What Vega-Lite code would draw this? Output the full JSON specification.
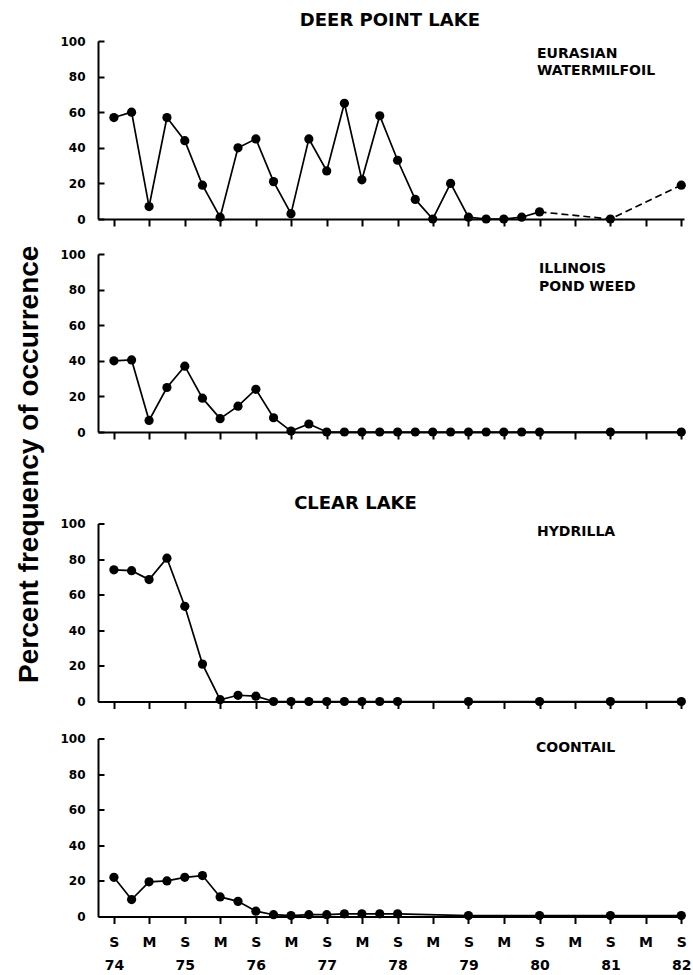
{
  "$schema": "https://vega.github.io/schema/vega-lite/v6.json",
  "background": "white",
  "padding": {"left": 15, "top": 12, "right": 0, "bottom": 2},
  "title": {"text": "Percent frequency of occurrence", "orient": "left", "anchor": "middle", "font": "Liberation Sans", "fontSize": 28, "fontWeight": "bold", "color": "black", "offset": 16, "dx": 28},
  "datasets": {
    "milfoil": [
      {"date": "1974-09-15", "pct": 57}, {"date": "1974-12-15", "pct": 60}, {"date": "1975-03-15", "pct": 7}, {"date": "1975-06-15", "pct": 57},
      {"date": "1975-09-15", "pct": 44}, {"date": "1975-12-15", "pct": 19}, {"date": "1976-03-15", "pct": 1}, {"date": "1976-06-15", "pct": 40},
      {"date": "1976-09-15", "pct": 45}, {"date": "1976-12-15", "pct": 21}, {"date": "1977-03-15", "pct": 3}, {"date": "1977-06-15", "pct": 45},
      {"date": "1977-09-15", "pct": 27}, {"date": "1977-12-15", "pct": 65}, {"date": "1978-03-15", "pct": 22}, {"date": "1978-06-15", "pct": 58},
      {"date": "1978-09-15", "pct": 33}, {"date": "1978-12-15", "pct": 11}, {"date": "1979-03-15", "pct": 0}, {"date": "1979-06-15", "pct": 20},
      {"date": "1979-09-15", "pct": 1}, {"date": "1979-12-15", "pct": 0}, {"date": "1980-03-15", "pct": 0}, {"date": "1980-06-15", "pct": 1},
      {"date": "1980-09-15", "pct": 4}, {"date": "1981-09-15", "pct": 0}, {"date": "1982-09-15", "pct": 19}
    ],
    "pondweed": [
      {"date": "1974-09-15", "pct": 40}, {"date": "1974-12-15", "pct": 40.5}, {"date": "1975-03-15", "pct": 6.5}, {"date": "1975-06-15", "pct": 25},
      {"date": "1975-09-15", "pct": 37}, {"date": "1975-12-15", "pct": 19}, {"date": "1976-03-15", "pct": 7.5}, {"date": "1976-06-15", "pct": 14.5},
      {"date": "1976-09-15", "pct": 24}, {"date": "1976-12-15", "pct": 8}, {"date": "1977-03-15", "pct": 0.5}, {"date": "1977-06-15", "pct": 4.5},
      {"date": "1977-09-15", "pct": 0}, {"date": "1977-12-15", "pct": 0}, {"date": "1978-03-15", "pct": 0}, {"date": "1978-06-15", "pct": 0},
      {"date": "1978-09-15", "pct": 0}, {"date": "1978-12-15", "pct": 0}, {"date": "1979-03-15", "pct": 0}, {"date": "1979-06-15", "pct": 0},
      {"date": "1979-09-15", "pct": 0}, {"date": "1979-12-15", "pct": 0}, {"date": "1980-03-15", "pct": 0}, {"date": "1980-06-15", "pct": 0},
      {"date": "1980-09-15", "pct": 0}, {"date": "1981-09-15", "pct": 0}, {"date": "1982-09-15", "pct": 0}
    ],
    "hydrilla": [
      {"date": "1974-09-15", "pct": 74}, {"date": "1974-12-15", "pct": 73.5}, {"date": "1975-03-15", "pct": 68.5}, {"date": "1975-06-15", "pct": 80.5},
      {"date": "1975-09-15", "pct": 53.5}, {"date": "1975-12-15", "pct": 21}, {"date": "1976-03-15", "pct": 1}, {"date": "1976-06-15", "pct": 3.5},
      {"date": "1976-09-15", "pct": 3}, {"date": "1976-12-15", "pct": 0}, {"date": "1977-03-15", "pct": 0}, {"date": "1977-06-15", "pct": 0},
      {"date": "1977-09-15", "pct": 0}, {"date": "1977-12-15", "pct": 0}, {"date": "1978-03-15", "pct": 0}, {"date": "1978-06-15", "pct": 0},
      {"date": "1978-09-15", "pct": 0}, {"date": "1979-09-15", "pct": 0}, {"date": "1980-09-15", "pct": 0}, {"date": "1981-09-15", "pct": 0},
      {"date": "1982-09-15", "pct": 0}
    ],
    "coontail": [
      {"date": "1974-09-15", "pct": 22}, {"date": "1974-12-15", "pct": 9.5}, {"date": "1975-03-15", "pct": 19.5}, {"date": "1975-06-15", "pct": 20},
      {"date": "1975-09-15", "pct": 22}, {"date": "1975-12-15", "pct": 23}, {"date": "1976-03-15", "pct": 11}, {"date": "1976-06-15", "pct": 8.5},
      {"date": "1976-09-15", "pct": 3}, {"date": "1976-12-15", "pct": 1}, {"date": "1977-03-15", "pct": 0.5}, {"date": "1977-06-15", "pct": 1},
      {"date": "1977-09-15", "pct": 1}, {"date": "1977-12-15", "pct": 1.5}, {"date": "1978-03-15", "pct": 1.5}, {"date": "1978-06-15", "pct": 1.5},
      {"date": "1978-09-15", "pct": 1.5}, {"date": "1979-09-15", "pct": 0.5}, {"date": "1980-09-15", "pct": 0.5}, {"date": "1981-09-15", "pct": 0.5},
      {"date": "1982-09-15", "pct": 0.5}
    ]
  },
  "spacing": 54.5,
  "vconcat": [
    {
      "title": {"text": "DEER POINT LAKE", "font": "DejaVu Sans", "fontSize": 18, "fontWeight": "bold", "color": "black", "anchor": "middle", "dx": 17, "offset": 5},
      "spacing": 21,
      "vconcat": [
        {
          "width": 586, "height": 178,
          "title": {"text": ["EURASIAN", "WATERMILFOIL"], "frame": "group", "anchor": "start", "align": "left", "dx": 439, "offset": -43, "font": "DejaVu Sans", "fontSize": 14, "fontWeight": "bold", "lineHeight": 17.5, "color": "black"},
          "data": {"name": "milfoil"},
          "encoding": {
            "x": {"field": "date", "type": "temporal", "scale": {"type": "utc", "domain": [{"year": 1974, "month": 6, "date": 25, "utc": true}, {"year": 1982, "month": 9, "date": 29, "utc": true}]},
                  "axis": {"title": null, "labels": false, "values": [
                    {"year": 1974, "month": 9, "date": 15, "utc": true}, {"year": 1975, "month": 3, "date": 15, "utc": true}, {"year": 1975, "month": 9, "date": 15, "utc": true},
                    {"year": 1976, "month": 3, "date": 15, "utc": true}, {"year": 1976, "month": 9, "date": 15, "utc": true}, {"year": 1977, "month": 3, "date": 15, "utc": true},
                    {"year": 1977, "month": 9, "date": 15, "utc": true}, {"year": 1978, "month": 3, "date": 15, "utc": true}, {"year": 1978, "month": 9, "date": 15, "utc": true},
                    {"year": 1979, "month": 3, "date": 15, "utc": true}, {"year": 1979, "month": 9, "date": 15, "utc": true}, {"year": 1980, "month": 3, "date": 15, "utc": true},
                    {"year": 1980, "month": 9, "date": 15, "utc": true}, {"year": 1981, "month": 3, "date": 15, "utc": true}, {"year": 1981, "month": 9, "date": 15, "utc": true},
                    {"year": 1982, "month": 3, "date": 15, "utc": true}, {"year": 1982, "month": 9, "date": 15, "utc": true}]}},
            "y": {"field": "pct", "type": "quantitative", "scale": {"domain": [0, 100]}, "axis": {"title": null, "values": [0, 20, 40, 60, 80, 100]}}
          },
          "layer": [
            {"transform": [{"filter": "time(datum.date) <= utc(1980, 8, 15)"}], "mark": {"type": "line", "color": "black", "strokeWidth": 1.7}},
            {"transform": [{"filter": "time(datum.date) >= utc(1980, 8, 15)"}], "mark": {"type": "line", "color": "black", "strokeWidth": 1.7, "strokeDash": [7, 4]}},
            {"mark": {"type": "point", "filled": true, "color": "black", "size": 85, "opacity": 1}}
          ]
        },
        {
          "width": 586, "height": 178,
          "title": {"text": ["ILLINOIS", "POND WEED"], "frame": "group", "anchor": "start", "align": "left", "dx": 441, "offset": -45.5, "font": "DejaVu Sans", "fontSize": 14, "fontWeight": "bold", "lineHeight": 18, "color": "black"},
          "data": {"name": "pondweed"},
          "encoding": {
            "x": {"field": "date", "type": "temporal", "scale": {"type": "utc", "domain": [{"year": 1974, "month": 6, "date": 25, "utc": true}, {"year": 1982, "month": 9, "date": 29, "utc": true}]},
                  "axis": {"title": null, "labels": false, "values": [
                    {"year": 1974, "month": 9, "date": 15, "utc": true}, {"year": 1975, "month": 3, "date": 15, "utc": true}, {"year": 1975, "month": 9, "date": 15, "utc": true},
                    {"year": 1976, "month": 3, "date": 15, "utc": true}, {"year": 1976, "month": 9, "date": 15, "utc": true}, {"year": 1977, "month": 3, "date": 15, "utc": true},
                    {"year": 1977, "month": 9, "date": 15, "utc": true}, {"year": 1978, "month": 3, "date": 15, "utc": true}, {"year": 1978, "month": 9, "date": 15, "utc": true},
                    {"year": 1979, "month": 3, "date": 15, "utc": true}, {"year": 1979, "month": 9, "date": 15, "utc": true}, {"year": 1980, "month": 3, "date": 15, "utc": true},
                    {"year": 1980, "month": 9, "date": 15, "utc": true}, {"year": 1981, "month": 3, "date": 15, "utc": true}, {"year": 1981, "month": 9, "date": 15, "utc": true},
                    {"year": 1982, "month": 3, "date": 15, "utc": true}, {"year": 1982, "month": 9, "date": 15, "utc": true}]}},
            "y": {"field": "pct", "type": "quantitative", "scale": {"domain": [0, 100]}, "axis": {"title": null, "values": [0, 20, 40, 60, 80, 100]}}
          },
          "layer": [
            {"mark": {"type": "line", "color": "black", "strokeWidth": 1.7}},
            {"mark": {"type": "point", "filled": true, "color": "black", "size": 85, "opacity": 1}}
          ]
        }
      ]
    },
    {
      "title": {"text": "CLEAR LAKE", "font": "DejaVu Sans", "fontSize": 18, "fontWeight": "bold", "color": "black", "anchor": "middle", "dx": -20, "offset": 5},
      "spacing": 23,
      "vconcat": [
        {
          "width": 586, "height": 178,
          "title": {"text": "HYDRILLA", "frame": "group", "anchor": "start", "align": "left", "dx": 439, "offset": -21, "font": "DejaVu Sans", "fontSize": 14, "fontWeight": "bold", "color": "black"},
          "data": {"name": "hydrilla"},
          "encoding": {
            "x": {"field": "date", "type": "temporal", "scale": {"type": "utc", "domain": [{"year": 1974, "month": 6, "date": 25, "utc": true}, {"year": 1982, "month": 9, "date": 29, "utc": true}]},
                  "axis": {"title": null, "labels": false, "values": [
                    {"year": 1974, "month": 9, "date": 15, "utc": true}, {"year": 1975, "month": 3, "date": 15, "utc": true}, {"year": 1975, "month": 9, "date": 15, "utc": true},
                    {"year": 1976, "month": 3, "date": 15, "utc": true}, {"year": 1976, "month": 9, "date": 15, "utc": true}, {"year": 1977, "month": 3, "date": 15, "utc": true},
                    {"year": 1977, "month": 9, "date": 15, "utc": true}, {"year": 1978, "month": 3, "date": 15, "utc": true}, {"year": 1978, "month": 9, "date": 15, "utc": true},
                    {"year": 1979, "month": 3, "date": 15, "utc": true}, {"year": 1979, "month": 9, "date": 15, "utc": true}, {"year": 1980, "month": 3, "date": 15, "utc": true},
                    {"year": 1980, "month": 9, "date": 15, "utc": true}, {"year": 1981, "month": 3, "date": 15, "utc": true}, {"year": 1981, "month": 9, "date": 15, "utc": true},
                    {"year": 1982, "month": 3, "date": 15, "utc": true}, {"year": 1982, "month": 9, "date": 15, "utc": true}]}},
            "y": {"field": "pct", "type": "quantitative", "scale": {"domain": [0, 100]}, "axis": {"title": null, "values": [0, 20, 40, 60, 80, 100]}}
          },
          "layer": [
            {"mark": {"type": "line", "color": "black", "strokeWidth": 1.7}},
            {"mark": {"type": "point", "filled": true, "color": "black", "size": 85, "opacity": 1}}
          ]
        },
        {
          "width": 586, "height": 178,
          "title": {"text": "COONTAIL", "frame": "group", "anchor": "start", "align": "left", "dx": 438, "offset": -22, "font": "DejaVu Sans", "fontSize": 14, "fontWeight": "bold", "color": "black"},
          "data": {"name": "coontail"},
          "encoding": {
            "x": {"field": "date", "type": "temporal", "scale": {"type": "utc", "domain": [{"year": 1974, "month": 6, "date": 25, "utc": true}, {"year": 1982, "month": 9, "date": 29, "utc": true}]},
                  "axis": {"title": null, "labels": true, "labelExpr": "utcmonth(datum.value) == 8 ? ['S', utcFormat(datum.value, '%y')] : 'M'", "values": [
                    {"year": 1974, "month": 9, "date": 15, "utc": true}, {"year": 1975, "month": 3, "date": 15, "utc": true}, {"year": 1975, "month": 9, "date": 15, "utc": true},
                    {"year": 1976, "month": 3, "date": 15, "utc": true}, {"year": 1976, "month": 9, "date": 15, "utc": true}, {"year": 1977, "month": 3, "date": 15, "utc": true},
                    {"year": 1977, "month": 9, "date": 15, "utc": true}, {"year": 1978, "month": 3, "date": 15, "utc": true}, {"year": 1978, "month": 9, "date": 15, "utc": true},
                    {"year": 1979, "month": 3, "date": 15, "utc": true}, {"year": 1979, "month": 9, "date": 15, "utc": true}, {"year": 1980, "month": 3, "date": 15, "utc": true},
                    {"year": 1980, "month": 9, "date": 15, "utc": true}, {"year": 1981, "month": 3, "date": 15, "utc": true}, {"year": 1981, "month": 9, "date": 15, "utc": true},
                    {"year": 1982, "month": 3, "date": 15, "utc": true}, {"year": 1982, "month": 9, "date": 15, "utc": true}]}},
            "y": {"field": "pct", "type": "quantitative", "scale": {"domain": [0, 100]}, "axis": {"title": null, "values": [0, 20, 40, 60, 80, 100]}}
          },
          "layer": [
            {"mark": {"type": "line", "color": "black", "strokeWidth": 1.7}},
            {"mark": {"type": "point", "filled": true, "color": "black", "size": 85, "opacity": 1}}
          ]
        }
      ]
    }
  ],
  "config": {
    "view": {"stroke": null},
    "axis": {"grid": false, "domainColor": "black", "domainWidth": 2, "tickColor": "black", "tickWidth": 2, "labelColor": "black", "labelFont": "DejaVu Sans", "labelFontWeight": "bold"},
    "axisX": {"tickSize": 7, "labelFontSize": 14, "labelPadding": 12, "labelLineHeight": 23, "labelFlush": false, "labelOverlap": false, "labelBound": false},
    "axisY": {"tickSize": -6, "labelFontSize": 12, "labelPadding": 19}
  }
}
